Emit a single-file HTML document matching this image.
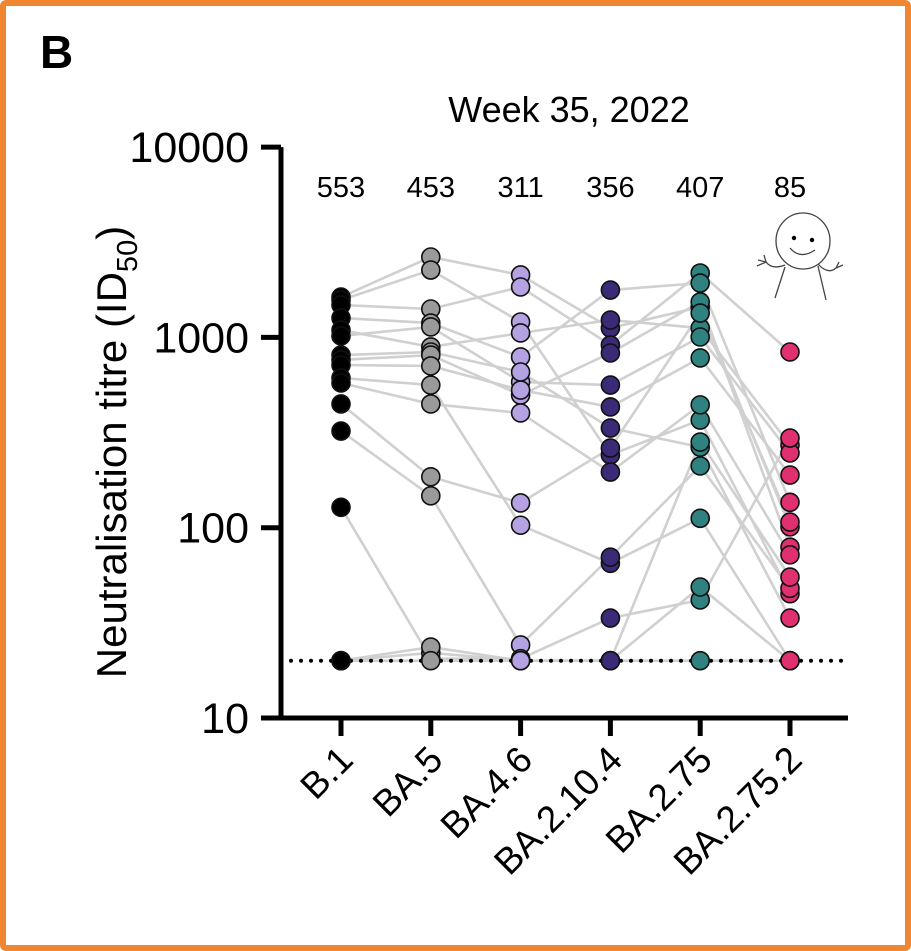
<!DOCTYPE html>
<html><head><meta charset="utf-8"><style>
html,body{margin:0;padding:0;background:#fff;}
#frame{position:absolute;left:0;top:0;width:911px;height:951px;box-sizing:border-box;border:6px solid #f0862f;border-radius:6px;}
svg{position:absolute;left:0;top:0;}
text{font-family:"Liberation Sans",Arial,sans-serif;fill:#000;}
</style></head><body>
<div id="frame"></div>
<svg id="chart" width="911" height="951"></svg>
<script>
const categories = ["B.1","BA.5","BA.4.6","BA.2.10.4","BA.2.75","BA.2.75.2"];
const medians = [553,453,311,356,407,85];
const colors = ["#000000","#9a9a9a","#b4a2e2","#3a2a78","#2f827f","#e0306f"];
const yTicks = [10,100,1000,10000];
const yTickLabels = ["10","100","1000","10000"];
const limitOfDetection = 20;
const sB1 = [1630,1570,1480,1265,1093,1017,808,761,716,612,576,447,322,128,20,20,20];
const sBA5 = [2645,2260,1410,1190,891,1135,838,808,708,562,447,185,147,20.5,22,23.6,20];
const sBA46 = [2128,1205,1840,789,1055,583,658,498,529,103,401,135,24.2,20.5,20,20,20];
const sBA2104 = [1120,241,912,1774,1234,562,334,828,431,65,196,262,70,33.5,20,20,20];
const sBA275 = [1445,368,2180,1930,1120,1005,265,1535,780,112,442,1343,211,41.7,48.8,282,20];
const sBA2752 = [101,45,838,136,272,247,33.5,79,189,20,72,107,48,296,20,55,20];
const series = [sB1,sBA5,sBA46,sBA2104,sBA275,sBA2752];

const NS="http://www.w3.org/2000/svg";
const svg=document.getElementById('chart');
const X0=281, XEND=848, Y10=718, DEC=190.3;
function yScale(v){return Y10-(Math.log10(v)-1)*DEC;}
function xScale(i){return 341+i*89.8;}
function mk(tag,attrs,parent){const e=document.createElementNS(NS,tag);for(const k in attrs)e.setAttribute(k,attrs[k]);(parent||svg).appendChild(e);return e;}

let t=mk('text',{x:40,y:68,'font-size':46,'font-weight':'bold'});t.textContent='B';


t=mk('text',{x:569,y:122,'font-size':36,'text-anchor':'middle'});t.textContent='Week 35, 2022';


t=mk('text',{x:0,y:0,'font-size':42,'text-anchor':'middle',transform:'translate(126,452) rotate(-90)'});
t.innerHTML='Neutralisation titre (ID<tspan font-size="29" dy="11">50</tspan><tspan dy="-11">)</tspan>';



const lg=mk('g',{});


for(let p=0;p<series[0].length;p++){
  let pts=series.map((s,i)=>xScale(i)+','+yScale(s[p])).join(' ');
  const pl=mk('polyline',{points:pts,fill:'none',stroke:'#d0d0d0','stroke-width':2.6},lg);
  
  
}
const lod=mk('line',{x1:X0,x2:XEND,y1:yScale(limitOfDetection),y2:yScale(limitOfDetection),stroke:'#000','stroke-width':4,'stroke-dasharray':'0 10','stroke-linecap':'round'});



const ax=mk('path',{d:`M${X0},${yScale(10000)} V${Y10} H${XEND}`,fill:'none',stroke:'#000','stroke-width':5});


yTicks.forEach((v,i)=>{
  const y=yScale(v);
  const tk=mk('line',{x1:X0-20,x2:X0,y1:y,y2:y,stroke:'#000','stroke-width':5});
  
  
  const tl=mk('text',{x:X0-32,y:y+15,'font-size':43,'text-anchor':'end'});tl.textContent=yTickLabels[i];
  
  
});
categories.forEach((c,i)=>{
  const x=xScale(i);
  const tk=mk('line',{x1:x,x2:x,y1:Y10,y2:Y10+18,stroke:'#000','stroke-width':5});
  
  
  const tl=mk('text',{x:0,y:0,'font-size':37,'text-anchor':'end',transform:`translate(${x+14},${Y10+44}) rotate(-45)`});tl.textContent=c;
  
  
  const md=mk('text',{x:x,y:197,'font-size':29,'text-anchor':'middle'});md.textContent=medians[i];
  
  
});
series.forEach((s,i)=>{
  const g=mk('g',{});
  
  
  s.forEach(v=>{
    const c=mk('circle',{cx:xScale(i),cy:yScale(v),r:9,fill:colors[i],stroke:'#111','stroke-width':1.6},g);
    
    
  });
});
</script>
<svg width="911" height="951" style="pointer-events:none">
<g fill="none" stroke="#444" stroke-width="1.3">
<ellipse cx="803" cy="241" rx="27" ry="28"/>
<path d="M790 248 Q800 260 815 250"/>
<path d="M785 267 L775 298 M818 266 L826 300"/>
<path d="M785 265 Q772 270 766 262 M766 262 l-8 -2 M766 262 l-2 -7 M766 262 l-9 4"/>
<path d="M818 264 Q828 275 836 268 M836 268 l7 -3 M836 268 l3 -6"/>
</g>
<circle cx="794" cy="238" r="2.2" fill="#000"/><circle cx="812" cy="240" r="2.2" fill="#000"/>
</svg>
</body></html>
